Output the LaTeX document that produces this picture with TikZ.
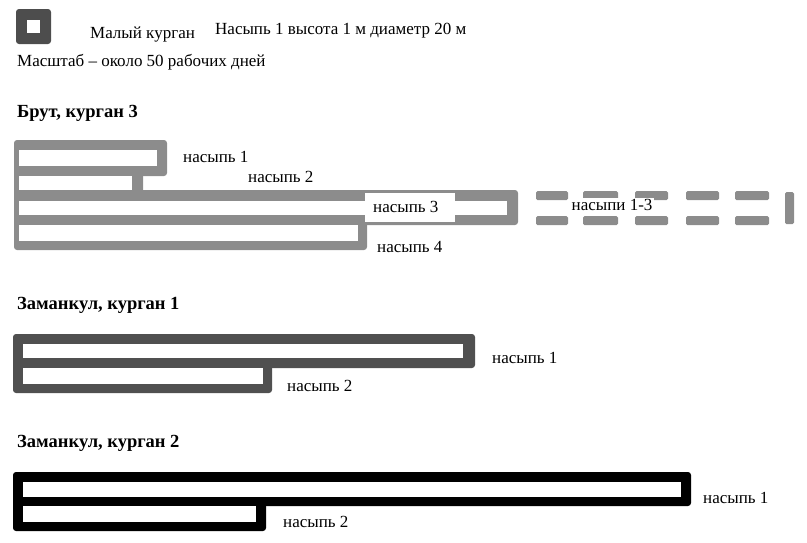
\documentclass[tikz,border=0pt]{standalone}
\usepackage{fontspec}
\setmainfont{Liberation Serif}
\definecolor{brutgray}{HTML}{8C8C8C}
\definecolor{zamgray}{HTML}{505050}
\definecolor{leggray}{HTML}{4D4D4D}
\begin{document}
\begin{tikzpicture}[x=1pt,y=-1pt,
  lbl/.style={anchor=west,inner sep=0pt,font=\fontsize{17}{20}\selectfont},
  head/.style={anchor=west,inner sep=0pt,font=\fontsize{18.5}{21}\selectfont\bfseries},
  hole/.style={fill=white},
  dashbar/.style={fill=brutgray,rounded corners=1.5pt}]
\useasboundingbox (0,0) rectangle (807,542);
% legend
\fill[leggray,rounded corners=3pt] (16,9) rectangle (51,44);
\fill[white] (27,20) rectangle (40,33);
\node[lbl] (leg1) at (90,35) {Малый курган};
\node[lbl] (leg2) at (215,31) {Насыпь 1 высота 1 м диаметр 20 м};
\node[lbl] (leg3) at (17,62) {Масштаб – около 50 рабочих дней};
% Brut
\node[head] (h1) at (17,113) {Брут, курган 3};
\begin{scope}[brutgray,rounded corners=3pt]
\fill (14,140) rectangle (167,176);
\fill (14,166) rectangle (143,200);
\fill (14,190) rectangle (518,225);
\fill (14,215) rectangle (367,250);
\end{scope}
\fill[hole] (18.5,150) rectangle (157,166);
\fill[hole] (18.5,176) rectangle (132,190);
\fill[hole] (18.5,201) rectangle (507,215);
\fill[hole] (18.5,225) rectangle (358,241);
\fill[white] (365,193) rectangle (455,222);
\foreach \a/\b in {536/568,583/618,635/668,686/719,735/769}{
  \fill[dashbar] (\a,191) rectangle (\b,200);
  \fill[dashbar] (\a,216) rectangle (\b,225);
}
\fill[dashbar] (785,192) rectangle (794,224);
\node[lbl] (b1) at (183,157) {насыпь 1};
\node[lbl] (b2) at (248,177) {насыпь 2};
\node[lbl] (b3) at (373,207) {насыпь 3};
\node[lbl] (b4) at (377,247) {насыпь 4};
\node[lbl,fill=white,inner sep=1.5pt] (b13) at (570,205) {насыпи 1-3};
% Zamankul 1
\node[head] (h2) at (17,305) {Заманкул, курган 1};
\begin{scope}[zamgray,rounded corners=3pt]
\fill (13,334) rectangle (475,368);
\fill (13,358) rectangle (272,393);
\end{scope}
\fill[hole] (23,344) rectangle (463,358);
\fill[hole] (23,368) rectangle (263,384);
\node[lbl] (z11) at (492,358) {насыпь 1};
\node[lbl] (z12) at (287,386) {насыпь 2};
% Zamankul 2
\node[head] (h3) at (17,443) {Заманкул, курган 2};
\begin{scope}[black,rounded corners=3pt]
\fill (13,472) rectangle (691,506);
\fill (13,497) rectangle (266,531);
\end{scope}
\fill[hole] (23,482) rectangle (681,497);
\fill[hole] (23,506) rectangle (256,522);
\node[lbl] (z21) at (703,498) {насыпь 1};
\node[lbl] (z22) at (283,522) {насыпь 2};
\end{tikzpicture}
\end{document}
